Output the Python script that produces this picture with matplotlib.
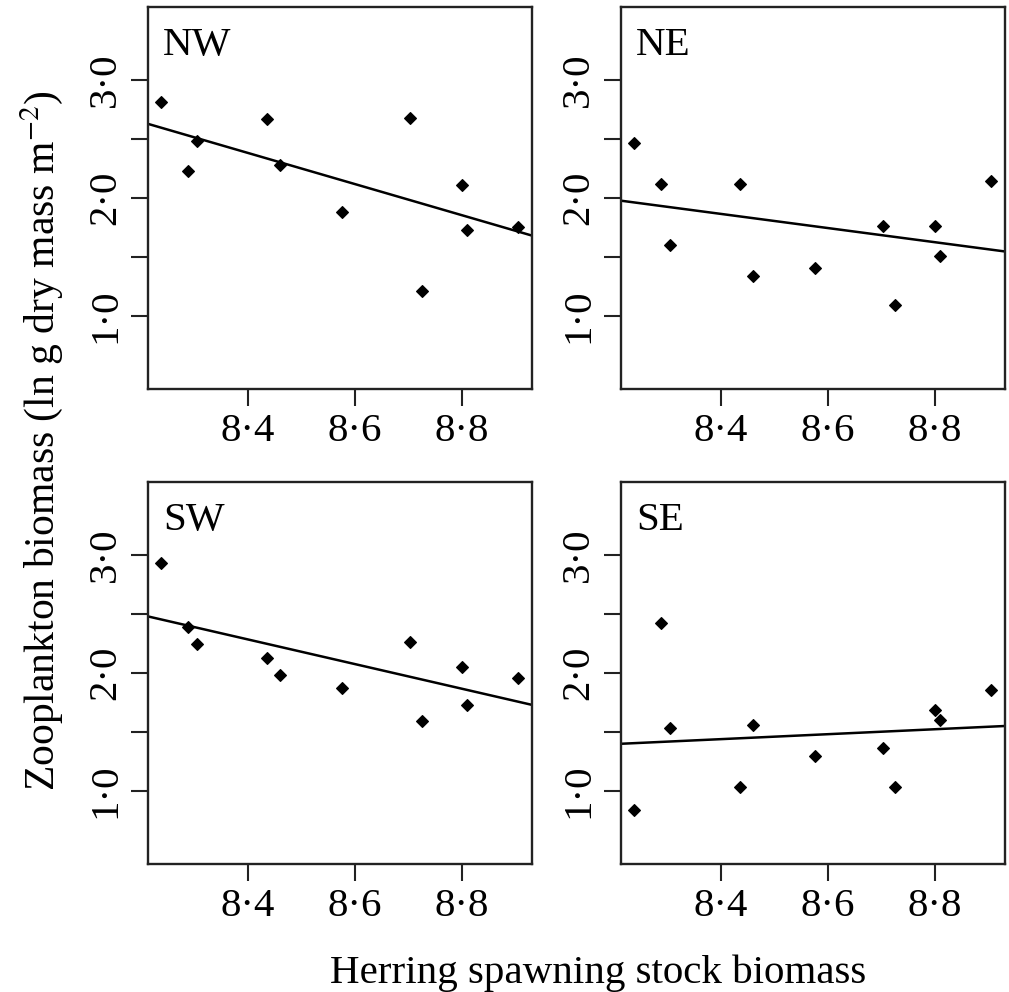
"""
Zooplankton biomass vs herring spawning stock biomass, four regions.
Points per region plus a fitted line (read off the published figure).
"""

import matplotlib
matplotlib.use("Agg")
import matplotlib.pyplot as plt

plt.rcParams["font.family"] = ["Liberation Serif", "DejaVu Serif"]
plt.rcParams["mathtext.fontset"] = "stix"

# ── data ─────────────────────────────────────────────────────────────────────
herring_ssb = [8.238, 8.287, 8.304, 8.435, 8.460, 8.575, 8.703, 8.725, 8.801, 8.810, 8.905]

zoo_nw = [2.81, 2.23, 2.48, 2.67, 2.28, 1.88, 2.68, 1.21, 2.11, 1.73, 1.75]
zoo_ne = [2.47, 2.12, 1.60, 2.12, 1.34, 1.41, 1.76, 1.09, 1.76, 1.51, 2.14]
zoo_sw = [2.93, 2.39, 2.245, 2.13, 1.98, 1.87, 2.26, 1.59, 2.05, 1.73, 1.96]
zoo_se = [0.84, 2.42, 1.53, 1.03, 1.56, 1.30, 1.36, 1.03, 1.69, 1.60, 1.86]

regions = ["NW", "NE", "SW", "SE"]
fit_at_8_5 = [2.25, 1.805, 2.18, 1.46]    # fitted value at x = 8.5
fit_slope = [-1.32, -0.60, -1.045, 0.21]

x_ticks = [8.4, 8.6, 8.8]
x_ticklabels = ["8·4", "8·6", "8·8"]
y_ticks = [1.0, 1.5, 2.0, 2.5, 3.0]
y_ticklabels = ["1·0", "", "2·0", "", "3·0"]

W, H = 1009, 992
FS = 29.5

# panel positions in pixels: left, top
panel_px = [(148, 7), (621, 7), (148, 482), (621, 482)]
PW, PH = 384, 382

fig = plt.figure(figsize=(W / 100, H / 100), dpi=100)

for name, ys, y0, slope, (lx, ty) in zip(regions, [zoo_nw, zoo_ne, zoo_sw, zoo_se],
                                         fit_at_8_5, fit_slope, panel_px):
    ax = fig.add_axes([lx / W, 1 - (ty + PH) / H, PW / W, PH / H])
    ax.plot(herring_ssb, ys, ls="none", marker="D", ms=6.3, mew=0.8,
            color="black", mec="black")
    ax.axline((8.5, y0), slope=slope, color="black", lw=1.8)

    ax.set_xlim(8.213, 8.931)
    ax.set_ylim(0.38, 3.62)
    ax.set_xticks(x_ticks, x_ticklabels)
    ax.set_yticks(y_ticks, y_ticklabels)
    ax.tick_params(axis="both", direction="out", length=12, width=1.5,
                   pad=5, labelsize=FS, color="#222222")
    for lab in ax.get_yticklabels():
        lab.set_rotation(90)
        lab.set_va("center")
    for sp in ax.spines.values():
        sp.set_linewidth(1.7)
        sp.set_color("#222222")

    ax.text(0.039, 0.874, name, transform=ax.transAxes, fontsize=FS,
            ha="left", va="baseline")

fig.text(42 / W, 1 - 441 / H, "Zooplankton biomass (ln g dry mass m$^{-2}$)",
         rotation=90, ha="center", va="center", fontsize=30)
fig.text(598 / W, 1 - 983 / H, "Herring spawning stock biomass",
         ha="center", va="baseline", fontsize=FS)

fig.savefig("out.png", dpi=100)
